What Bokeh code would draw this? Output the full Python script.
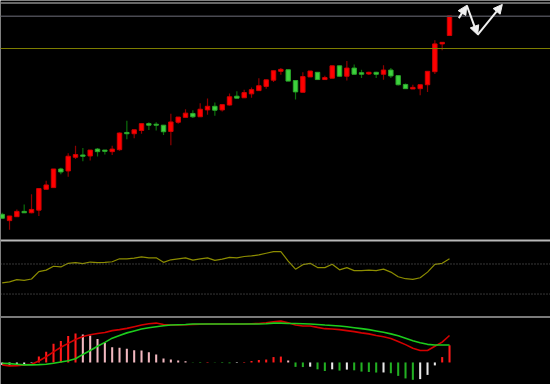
from bokeh.plotting import figure
from bokeh.models import ColumnDataSource, Range1d, Span, Arrow, NormalHead
from bokeh.embed import file_html
from bokeh.resources import INLINE

# ---- price candles (arbitrary price units) ----
open_ = [31.7, 25.3, 29.3, 34.7, 33.3, 36.0, 57.3, 59.0, 78.0, 76.0,
         90.0, 92.3, 91.3, 98.3, 97.3, 95.7, 97.7, 115.3, 114.0, 117.3,
         124.3, 123.7, 122.7, 116.3, 125.7, 130.7, 134.7, 131.3, 138.3, 142.0,
         138.3, 143.3, 152.3, 150.7, 154.7, 158.0, 162.3, 168.7, 177.7, 179.3,
         168.3, 156.3, 172.0, 176.7, 169.3, 170.7, 183.3, 172.7, 181.0, 176.3,
         175.0, 176.7, 174.7, 179.0, 173.3, 164.3, 159.7, 160.0, 164.0, 177.3,
         205.7, 214.3]
high_ = [33.3, 30.0, 36.7, 41.7, 52.3, 58.7, 66.0, 78.0, 79.3, 94.0,
         101.7, 99.3, 97.3, 99.3, 97.3, 101.7, 115.3, 127.3, 118.0, 124.3,
         125.7, 125.7, 122.7, 134.3, 131.0, 139.0, 138.0, 145.0, 150.0, 146.0,
         143.7, 155.0, 157.3, 159.0, 161.3, 170.7, 169.0, 178.3, 181.0, 179.3,
         168.3, 176.7, 178.0, 176.7, 173.3, 183.3, 183.3, 188.3, 184.7, 179.3,
         177.3, 177.3, 184.0, 181.0, 173.3, 165.3, 164.0, 164.0, 177.7, 209.3,
         207.3, 234.3]
low_ = [27.5, 16.0, 29.3, 33.3, 32.7, 30.0, 57.3, 59.0, 72.7, 70.0,
        88.3, 86.0, 86.7, 90.7, 92.7, 92.3, 96.7, 108.3, 109.3, 114.0,
        117.7, 117.3, 112.7, 102.3, 124.3, 130.7, 130.0, 131.3, 133.3, 132.3,
        136.7, 142.7, 150.3, 150.7, 150.7, 158.0, 160.0, 166.7, 174.3, 167.7,
        149.0, 156.3, 172.0, 169.3, 169.3, 170.7, 172.7, 168.3, 174.7, 171.0,
        174.0, 171.0, 169.0, 171.0, 163.3, 160.0, 159.7, 153.3, 156.7, 175.0,
        199.3, 214.3]
close_ = [27.7, 30.0, 34.7, 33.3, 36.7, 58.0, 61.7, 78.0, 75.0, 91.0,
          92.7, 91.0, 97.3, 95.7, 96.0, 98.3, 114.7, 114.0, 118.0, 124.3,
          122.7, 122.7, 116.0, 126.0, 131.0, 135.0, 131.3, 139.0, 142.0, 138.0,
          143.7, 151.7, 150.3, 156.0, 159.0, 163.0, 169.0, 178.3, 179.7, 167.7,
          156.7, 172.3, 178.0, 169.3, 171.3, 183.3, 172.7, 181.0, 174.7, 174.7,
          176.7, 174.7, 179.0, 173.0, 164.0, 160.0, 161.3, 164.0, 177.7, 205.7,
          207.3, 234.3]

# horizontal price levels drawn on the main panel
level_prices = [247.5, 234.0]
level_colors = ["#8a8a8a", "#4a4a52"]
olive_level = 201.0

# projection arrows (bar index, price)
proj_x = [62.27, 63.35, 64.83, 68.2]
proj_y = [232.0, 245.0, 215.0, 246.0]

# ---- RSI ----
rsi = [44.8, 46.1, 49.1, 48.2, 50.0, 59.9, 61.8, 67.0, 66.1, 70.9,
       71.7, 70.4, 72.6, 71.7, 72.2, 73.0, 76.9, 76.9, 77.8, 79.5,
       78.2, 78.2, 72.2, 75.6, 76.9, 78.2, 75.2, 76.9, 78.2, 74.8,
       76.5, 78.7, 78.2, 80.0, 80.8, 82.1, 84.3, 86.5, 86.5, 73.9,
       63.1, 69.1, 70.9, 65.2, 65.2, 69.6, 62.2, 65.2, 61.2, 61.2,
       61.8, 61.2, 63.1, 59.2, 53.0, 50.4, 49.5, 51.7, 59.2, 69.6,
       70.9, 76.9]
rsi_levels = [70, 30]

# ---- MACD ----
macd = [-2.5, -3.5, -3.2, -2.5, -1.8, 1.5, 5.8, 10.8, 15.5, 19.5,
        23.5, 26.5, 28.2, 29.5, 30.5, 32.5, 33.5, 34.8, 36.5, 38.2,
        39.5, 40.2, 38.8, 38.2, 38.2, 38.5, 38.8, 39.0, 39.2, 39.2,
        39.2, 39.2, 39.2, 39.2, 39.5, 39.8, 40.5, 41.5, 42.2, 40.5,
        38.2, 37.2, 37.2, 35.8, 34.5, 34.2, 33.5, 32.5, 31.5, 30.2,
        29.2, 27.5, 26.2, 24.5, 21.5, 18.2, 14.5, 12.2, 12.2, 16.5,
        20.8, 27.5]
signal = [-0.8, -1.2, -1.8, -2.5, -2.5, -2.2, -1.8, -0.8, 0.5, 1.8,
          3.8, 8.2, 12.2, 16.5, 20.5, 24.8, 27.5, 30.2, 32.2, 34.2,
          35.5, 36.5, 37.5, 38.2, 38.5, 38.8, 39.2, 39.2, 39.2, 39.2,
          39.2, 39.2, 39.2, 39.2, 39.2, 39.2, 39.5, 40.2, 40.2, 39.8,
          39.8, 39.5, 39.2, 38.8, 38.2, 37.8, 37.2, 36.5, 35.5, 34.5,
          33.5, 32.2, 30.8, 29.2, 27.2, 24.8, 22.2, 20.2, 18.5, 17.8,
          17.8, 17.8]
hist = [-2.5, -2.4, -2.0, -1.5, -0.6, 6.0, 11.0, 19.0, 22.0, 27.0,
        29.5, 28.5, 27.5, 24.0, 20.0, 15.5, 15.0, 14.0, 12.5, 12.3,
        10.5, 8.0, 4.0, 3.0, 2.0, 1.2, -0.3, -0.5, 0.5, -0.4,
        -0.6, -0.8, -0.5, 0.5, 1.5, 2.5, 3.0, 5.5, 6.0, 2.0,
        -4.5, -4.7, -4.3, -7.0, -8.7, -7.0, -8.3, -7.3, -8.0, -9.3,
        -9.7, -10.3, -10.2, -11.0, -13.7, -16.3, -17.7, -17.0, -12.7, -3.0,
        5.5, 17.5]

n = len(open_)
idx = list(range(n))

# candle colours: red = rising, green = falling
up = [c >= o for o, c in zip(open_, close_)]
body_fill = ["#ff0000" if u else "#3ed13e" for u in up]
body_line = ["#d00000" if u else "#2aa82a" for u in up]
wick_col = ["#8f0000" if u else "#0b6e0b" for u in up]
top = [max(o, c) for o, c in zip(open_, close_)]
bot = [min(o, c) for o, c in zip(open_, close_)]

candles = ColumnDataSource(dict(x=idx, top=top, bottom=bot, high=high_, low=low_,
                                fill=body_fill, line=body_line, wick=wick_col))

# histogram colours
hcol = []
for i, v in enumerate(hist):
    prev = hist[i - 1] if i > 0 else v
    if v >= 0:
        hcol.append("#ff1a1a" if v >= prev else "#f2b8c0")
    else:
        hcol.append("#22b022" if v < prev else "#e8e8e8")
hsrc = ColumnDataSource(dict(x=idx, top=hist, col=hcol))

p = figure(width=550, height=384, output_backend="svg", toolbar_location=None,
           x_range=Range1d(-0.23, 74.77), y_range=Range1d(-142, 250),
           min_border=0, background_fill_color="#000000",
           border_fill_color="#000000", outline_line_color=None,
           x_axis_location=None, y_axis_location=None)
p.grid.visible = False
p.extra_y_ranges = {"rsi": Range1d(-90.4, 420.7), "macd": Range1d(-22.5, 369.5)}

# panel separators (in main price units)
p.add_layout(Span(location=5.0, dimension="width", line_color="#b8b8b8", line_width=2))
p.add_layout(Span(location=-73.0, dimension="width", line_color="#7a7a7a", line_width=2))

for lv, lc in zip(level_prices, level_colors):
    p.add_layout(Span(location=lv, dimension="width", line_color=lc, line_width=1.5))
p.add_layout(Span(location=olive_level, dimension="width", line_color="#7d7d00", line_width=1.2))

# candles
p.segment(x0="x", y0="low", x1="x", y1="high", source=candles, line_color="wick", line_width=1.2)
p.vbar(x="x", top="top", bottom="bottom", width=0.6, source=candles,
       fill_color="fill", line_color="line", line_width=1)

# projection arrows
asrc = ColumnDataSource(dict(x0=proj_x[:-1], y0=proj_y[:-1], x1=proj_x[1:], y1=proj_y[1:]))
p.add_layout(Arrow(end=NormalHead(size=9, fill_color="#f0f0f0", line_color="#f0f0f0"),
                   x_start="x0", y_start="y0", x_end="x1", y_end="y1", source=asrc,
                   line_color="#f0f0f0", line_width=2))

# RSI
for lv in rsi_levels:
    p.add_layout(Span(location=lv, dimension="width", y_range_name="rsi",
                      line_color="#6e6e6e", line_width=1, line_dash="1 2"))
p.line(idx, rsi, y_range_name="rsi", line_color="#8c8c00", line_width=1.2)

# MACD
p.vbar(x="x", top="top", bottom=0, width=0.28, source=hsrc, y_range_name="macd",
       fill_color="col", line_color=None)
p.line(idx, macd, y_range_name="macd", line_color="#d40000", line_width=1.6)
p.line(idx, signal, y_range_name="macd", line_color="#1ccc1c", line_width=1.6)

open("out.html", "w").write(file_html(p, INLINE))
